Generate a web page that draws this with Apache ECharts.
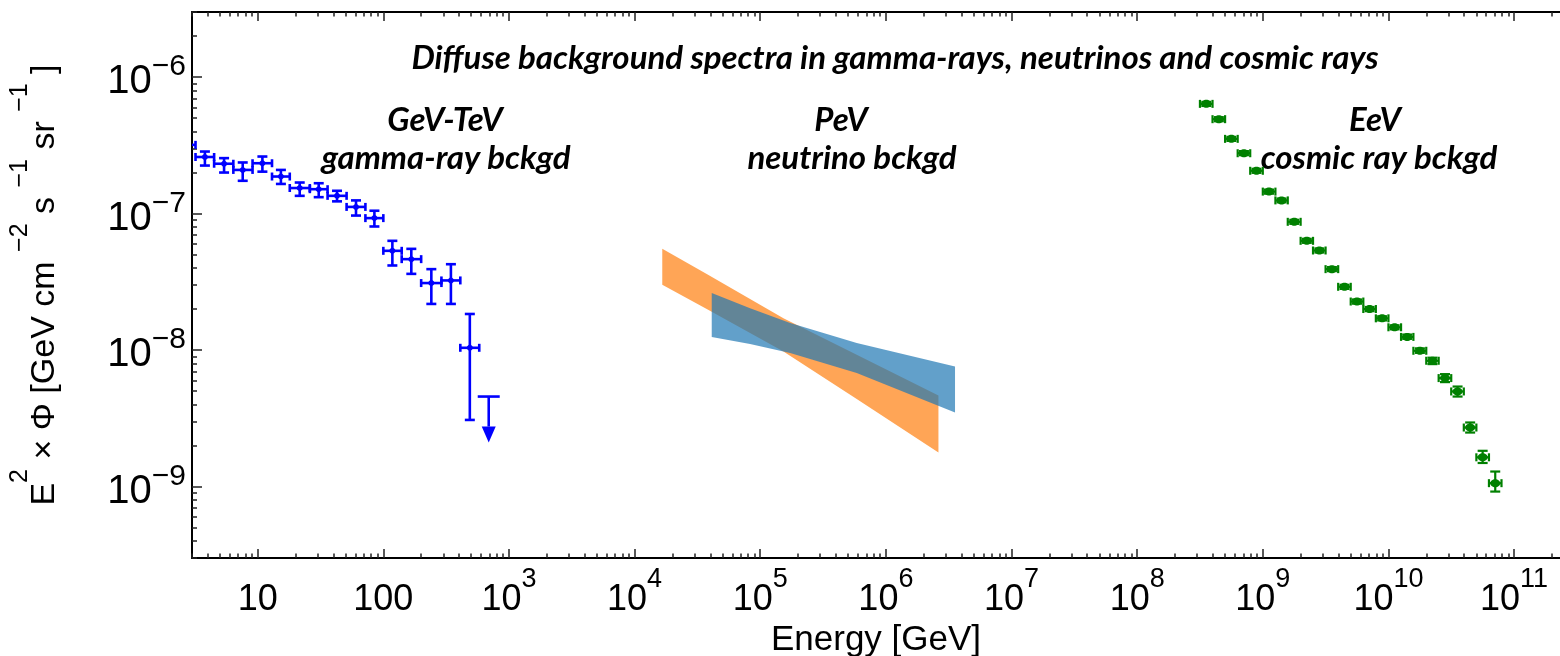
<!DOCTYPE html>
<html><head><meta charset="utf-8">
<script src="https://cdn.jsdelivr.net/npm/echarts@6/dist/echarts.min.js"></script>
<style>html,body{margin:0;padding:0;background:#fff}#c{width:1560px;height:656px}</style>
</head><body><div id="c"></div>
<script>
// ---------- DATA ----------
// GeV-TeV gamma-ray background (blue): bin centres, bin edges [GeV], flux and y-error bounds
const gammaE      = [2.7, 3.8, 5.4, 7.6, 10.9, 15.3, 21.6, 30.6, 42.8, 60.6, 84.9, 118, 167, 241, 345, 488];
const gammaEdges  = [2.3, 3.2, 4.5, 6.4, 9.1, 13, 18, 26, 36, 51, 72, 100, 140, 200, 290, 410, 580];
const gammaFlux   = [3.19e-7, 2.60e-7, 2.32e-7, 2.09e-7, 2.34e-7, 1.87e-7, 1.54e-7, 1.51e-7, 1.35e-7, 1.12e-7, 9.27e-8, 5.34e-8, 4.64e-8, 3.10e-8, 3.24e-8, 1.04e-8];
const gammaFluxHi = [3.58e-7, 2.85e-7, 2.55e-7, 2.37e-7, 2.62e-7, 2.09e-7, 1.69e-7, 1.67e-7, 1.47e-7, 1.25e-7, 1.05e-7, 6.32e-8, 5.52e-8, 3.92e-8, 4.26e-8, 1.84e-8];
const gammaFluxLo = [2.84e-7, 2.25e-7, 2.00e-7, 1.74e-7, 2.03e-7, 1.65e-7, 1.35e-7, 1.32e-7, 1.23e-7, 9.68e-8, 8.05e-8, 4.17e-8, 3.62e-8, 2.18e-8, 2.18e-8, 3.08e-9];
// upper limit
const gammaUL_E    = [690];
const gammaUL_Flux = [4.57e-9];

// PeV neutrino background: two bow-tie bands (energy [GeV], lower, upper)
const nuOrangeE  = [1.66e4, 3.75e4, 1.53e5, 5.86e5, 2.62e6];
const nuOrangeHi = [5.52e-8, 3.61e-8, 1.71e-8, 9.25e-9, 4.65e-9];
const nuOrangeLo = [3.01e-8, 2.00e-8, 9.77e-9, 4.38e-9, 1.78e-9];
const nuBlueE    = [4.11e4, 8.30e4, 1.73e5, 5.86e5, 3.55e6];
const nuBlueHi   = [2.62e-8, 2.03e-8, 1.58e-8, 1.13e-8, 7.59e-9];
const nuBlueLo   = [1.25e-8, 1.11e-8, 9.51e-9, 6.79e-9, 3.49e-9];

// EeV cosmic-ray background (green)
const crE = [3.55e8, 4.47e8, 5.62e8, 7.08e8, 8.91e8, 1.12e9, 1.41e9, 1.78e9, 2.24e9, 2.82e9, 3.55e9, 4.47e9, 5.62e9, 7.08e9, 8.91e9, 1.12e10, 1.41e10, 1.78e10, 2.24e10, 2.82e10, 3.55e10, 4.47e10, 5.62e10, 7.08e10];
const crEdges = [3.16e8, 3.98e8, 5.01e8, 6.31e8, 7.94e8, 1.0e9, 1.26e9, 1.58e9, 2.0e9, 2.51e9, 3.16e9, 3.98e9, 5.01e9, 6.31e9, 7.94e9, 1.0e10, 1.26e10, 1.58e10, 2.0e10, 2.51e10, 3.16e10, 3.98e10, 5.01e10, 6.31e10, 7.94e10];
const crFlux   = [6.37e-7, 4.92e-7, 3.53e-7, 2.77e-7, 2.06e-7, 1.45e-7, 1.25e-7, 8.71e-8, 6.32e-8, 5.37e-8, 3.92e-8, 2.91e-8, 2.27e-8, 2.00e-8, 1.71e-8, 1.47e-8, 1.25e-8, 9.89e-9, 8.36e-9, 6.24e-9, 4.98e-9, 2.71e-9, 1.64e-9, 1.06e-9];
const crFluxHi = [6.59e-7, 5.09e-7, 3.65e-7, 2.87e-7, 2.13e-7, 1.50e-7, 1.29e-7, 9.01e-8, 6.54e-8, 5.56e-8, 4.06e-8, 3.01e-8, 2.35e-8, 2.07e-8, 1.77e-8, 1.52e-8, 1.30e-8, 1.03e-8, 8.8e-9, 6.67e-9, 5.41e-9, 2.95e-9, 1.83e-9, 1.29e-9];
const crFluxLo = [6.15e-7, 4.75e-7, 3.41e-7, 2.68e-7, 1.99e-7, 1.40e-7, 1.21e-7, 8.42e-8, 6.11e-8, 5.19e-8, 3.79e-8, 2.81e-8, 2.19e-8, 1.93e-8, 1.65e-8, 1.42e-8, 1.21e-8, 9.55e-9, 7.9e-9, 5.83e-9, 4.57e-9, 2.49e-9, 1.49e-9, 9.2e-10];

// axis ranges and tick labels (exponents of 10)
const xRange = [3, 2.32e11];
const yRange = [3e-10, 3e-6];
const xMajorExp = [1,2,3,4,5,6,7,8,9,10,11];
const xMajorLabels = ['10','100','10|3','10|4','10|5','10|6','10|7','10|8','10|9','10|10','10|11'];
const yMajorExp = [-9,-8,-7,-6];
const yMajorLabels = ['10|−9','10|−8','10|−7','10|−6'];

const titleText = 'Diffuse background spectra in gamma-rays, neutrinos and cosmic rays';
const annotations = [
  ['GeV-TeV', 'gamma-ray bckgd'],
  ['PeV', 'neutrino bckgd'],
  ['EeV', 'cosmic ray bckgd']
];

// ---------- BUILD ----------
const L = Math.log10;
const xMin = L(xRange[0]), xMax = L(xRange[1]);
const yMin = L(yRange[0]), yMax = L(yRange[1]);
function minorList(lo, hi) {
  const out = [];
  for (let n = Math.floor(lo) - 1; n <= Math.ceil(hi); n++) {
    for (let k = 2; k <= 9; k++) { const v = n + L(k); if (v >= lo && v <= hi) out.push(v); }
  }
  return out;
}
const xMinor = minorList(xMin, xMax);
const yMinor = minorList(yMin, yMax);
const FONT = 'Liberation Sans';

function richLabel(s) {
  const p = s.split('|');
  return p.length > 1 ? '{b|' + p[0] + '}{s|' + p[1] + '}' : '{b|' + p[0] + '}';
}

const gammaData = gammaE.map((e, i) => [L(e), L(gammaFlux[i]), L(gammaEdges[i]), L(gammaEdges[i+1]), L(gammaFluxLo[i]), L(gammaFluxHi[i])]);
const crData = crE.map((e, i) => [L(e), L(crFlux[i]), L(crEdges[i]), L(crEdges[i+1]), L(crFluxLo[i]), L(crFluxHi[i])]);
const ulData = gammaUL_E.map((e, i) => [L(e), L(gammaUL_Flux[i])]);

function errRender(color, lw, xcap, ycap, rx, ry) {
  return function (params, api) {
    const c = api.coord([api.value(0), api.value(1)]);
    const xl = api.coord([api.value(2), api.value(1)])[0];
    const xh = api.coord([api.value(3), api.value(1)])[0];
    const yl = api.coord([api.value(0), api.value(4)])[1];
    const yh = api.coord([api.value(0), api.value(5)])[1];
    const st = { stroke: color, lineWidth: lw };
    return { type: 'group', children: [
      { type: 'line', shape: { x1: xl, y1: c[1], x2: xh, y2: c[1] }, style: st },
      { type: 'line', shape: { x1: xl, y1: c[1] - xcap, x2: xl, y2: c[1] + xcap }, style: st },
      { type: 'line', shape: { x1: xh, y1: c[1] - xcap, x2: xh, y2: c[1] + xcap }, style: st },
      { type: 'line', shape: { x1: c[0], y1: yl, x2: c[0], y2: yh }, style: st },
      { type: 'line', shape: { x1: c[0] - ycap, y1: yl, x2: c[0] + ycap, y2: yl }, style: st },
      { type: 'line', shape: { x1: c[0] - ycap, y1: yh, x2: c[0] + ycap, y2: yh }, style: st },
      { type: 'ellipse', shape: { cx: c[0], cy: c[1], rx: rx, ry: ry }, style: { fill: color } }
    ]};
  };
}
function ulRender(params, api) {
  const c = api.coord([api.value(0), api.value(1)]);
  const len = 46, head = 16, hw = 7;
  const st = { stroke: '#0000ff', lineWidth: 2.6 };
  return { type: 'group', children: [
    { type: 'line', shape: { x1: c[0] - 11, y1: c[1], x2: c[0] + 11, y2: c[1] }, style: st },
    { type: 'line', shape: { x1: c[0], y1: c[1], x2: c[0], y2: c[1] + len - head }, style: st },
    { type: 'polygon', shape: { points: [[c[0] - hw, c[1] + len - head], [c[0] + hw, c[1] + len - head], [c[0], c[1] + len]] }, style: { fill: '#0000ff' } }
  ]};
}
function bandRender(E, lo, hi, color) {
  return function (params, api) {
    const pts = [];
    for (let i = 0; i < E.length; i++) pts.push(api.coord([L(E[i]), L(hi[i])]));
    for (let i = E.length - 1; i >= 0; i--) pts.push(api.coord([L(E[i]), L(lo[i])]));
    return { type: 'polygon', shape: { points: pts }, style: { fill: color, opacity: 0.7 } };
  };
}

const axisLine = { show: true, lineStyle: { color: '#000', width: 2 } };
const tickMajor = (vals, len) => ({ show: true, inside: true, length: len, customValues: vals, lineStyle: { color: '#222', width: 1.5 } });

const option = {
  animation: false,
  backgroundColor: '#fff',
  grid: { left: 192, right: 0, top: 12, bottom: 98, containLabel: false, outerBoundsMode: 'none' },
  xAxis: [
    { type: 'value', position: 'bottom', min: xMin, max: xMax, axisLine: axisLine,
      axisTick: tickMajor(xMajorExp, 9), splitLine: { show: false },
      axisLabel: { customValues: xMajorExp, margin: 8,
        formatter: v => richLabel(xMajorLabels[xMajorExp.indexOf(Math.round(v))]),
        rich: { b: { fontSize: 36, fontFamily: FONT, color: '#000', lineHeight: 52, verticalAlign: 'bottom' },
                s: { fontSize: 27, fontFamily: FONT, color: '#000', lineHeight: 25, verticalAlign: 'top' } } },
      name: 'Energy [GeV]', nameLocation: 'middle', nameGap: 50,
      nameTextStyle: { fontSize: 35, fontFamily: FONT, color: '#000' } },
    { type: 'value', position: 'bottom', min: xMin, max: xMax, axisLine: { show: false },
      axisTick: tickMajor(xMinor, 4.5), axisLabel: { show: false }, splitLine: { show: false } },
    { type: 'value', position: 'top', min: xMin, max: xMax, axisLine: axisLine,
      axisTick: tickMajor(xMajorExp, 9), axisLabel: { show: false }, splitLine: { show: false } },
    { type: 'value', position: 'top', min: xMin, max: xMax, axisLine: { show: false },
      axisTick: tickMajor(xMinor, 4.5), axisLabel: { show: false }, splitLine: { show: false } }
  ],
  yAxis: [
    { type: 'value', position: 'left', min: yMin, max: yMax, axisLine: axisLine,
      axisTick: tickMajor(yMajorExp, 10), splitLine: { show: false },
      axisLabel: { customValues: yMajorExp, margin: 6,
        formatter: v => richLabel(yMajorLabels[yMajorExp.indexOf(Math.round(v))]),
        rich: { b: { fontSize: 40, fontFamily: FONT, color: '#000', lineHeight: 50, verticalAlign: 'bottom' },
                s: { fontSize: 30, fontFamily: FONT, color: '#000', lineHeight: 30, verticalAlign: 'top' } } },
      name: '{b|E}{s|2}{b| × Φ [GeV cm }{s|−2}{b| s }{s|−1}{b| sr }{s|−1}{b| ]}',
      nameLocation: 'middle', nameGap: 130,
      nameTextStyle: { rich: {
        b: { fontSize: 34, fontFamily: FONT, color: '#000', lineHeight: 54, verticalAlign: 'bottom' },
        s: { fontSize: 25, fontFamily: FONT, color: '#000', lineHeight: 22, verticalAlign: 'top' } } } },
    { type: 'value', position: 'left', min: yMin, max: yMax, axisLine: { show: false },
      axisTick: tickMajor(yMinor, 5), axisLabel: { show: false }, splitLine: { show: false } }
  ],
  series: [
    { type: 'custom', name: 'nu-orange', clip: true, renderItem: bandRender(nuOrangeE, nuOrangeLo, nuOrangeHi, '#ff7f0e'),
      data: [[L(nuOrangeE[0]), L(nuOrangeHi[0])]] },
    { type: 'custom', name: 'nu-blue', clip: true, renderItem: bandRender(nuBlueE, nuBlueLo, nuBlueHi, '#1f77b4'),
      data: [[L(nuBlueE[0]), L(nuBlueHi[0])]] },
    { type: 'custom', name: 'gamma', clip: true, renderItem: errRender('#0000ff', 2.6, 4, 5, 3, 3), data: gammaData },
    { type: 'custom', name: 'gammaUL', clip: true, renderItem: ulRender, data: ulData },
    { type: 'custom', name: 'cr', clip: true, renderItem: errRender('#008000', 2.2, 4, 5, 5, 4), data: crData }
  ]
};

// text annotations (title + region labels)
const TF = 'Lato';
const txt = (t, x, y, size) => ({ type: 'text', x: x, y: y,
  style: { text: t, fill: '#000', font: 'italic bold ' + size + 'px ' + TF, textAlign: 'center', textVerticalAlign: 'middle' } });
option.graphic = [
  txt(titleText, 895, 58, 33),
  txt(annotations[0][0], 445, 120, 33), txt(annotations[0][1], 446, 158, 33),
  txt(annotations[1][0], 841, 120, 33), txt(annotations[1][1], 852, 158, 33),
  txt(annotations[2][0], 1375, 120, 33), txt(annotations[2][1], 1379, 158, 33)
];

const chart = echarts.init(document.getElementById('c'), null, { renderer: 'canvas' });
chart.setOption(option);
</script></body></html>
